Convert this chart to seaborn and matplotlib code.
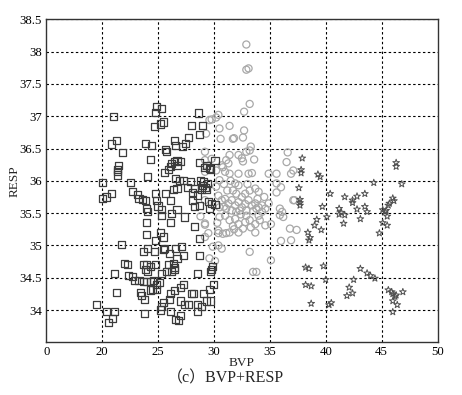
import matplotlib
matplotlib.use("Agg")
import matplotlib.pyplot as plt
import seaborn as sns

# class 1 (squares)
sq_x = [21.0, 24.9, 25.3, 24.8, 25.5, 25.2, 24.7, 20.8, 21.3, 21.8, 21.5, 21.4, 21.4, 21.4, 20.0,
        28.6, 28.0, 29.0, 28.7, 27.7, 26.5, 26.6, 27.2, 27.5, 23.9, 24.4, 25.7, 25.8, 24.3,
        28.7, 29.3, 29.6, 29.7, 30.1, 29.2, 26.2, 26.5, 26.7, 27.0, 26.1, 25.9, 25.6, 26.7, 24.1, 22.5,
        26.6, 27.3, 27.9, 26.9, 28.8, 29.1, 29.4, 29.0, 29.2, 28.9, 29.3, 28.3, 27.6, 28.1, 28.5,
        20.0, 20.4, 20.8, 22.7, 23.2, 23.3, 23.6, 23.9, 24.8, 24.9, 25.0, 25.3, 25.7, 26.1, 26.4, 26.7, 26.7,
        24.0, 24.1, 25.3, 26.2, 27.4, 28.1, 28.7, 28.3, 29.5, 29.8, 30.1, 24.0, 26.1,
        24.0, 25.2, 25.5, 24.8, 28.7, 21.7, 23.7, 24.1, 24.7, 25.5, 25.6, 26.0, 26.6, 27.1, 27.3, 26.7,
        28.7, 22.0, 22.3, 23.7, 24.0, 24.3, 24.8, 23.9, 24.1, 25.9, 26.4, 26.5, 26.5, 26.2, 25.8, 25.3,
        28.5, 29.7, 29.8, 29.9, 21.1, 22.4, 22.7, 22.9, 23.3, 23.7, 24.0, 24.3, 24.6, 24.9, 25.1,
        24.3, 24.5, 24.9, 23.4, 23.5, 23.8, 21.3, 27.3, 27.0, 26.5, 26.1, 26.0, 25.5, 25.3, 25.2,
        28.0, 28.2, 29.1, 29.6, 30.0, 27.0, 27.4, 27.7, 28.5, 28.9, 29.3, 29.7, 19.5,
        20.4, 21.1, 20.9, 20.6, 23.8, 26.1, 26.6, 26.8, 27.0, 28.5, 28.3, 29.6]
sq_y = [37.0, 37.15, 37.12, 37.06, 36.91, 36.88, 36.84, 36.57, 36.63, 36.44, 36.24, 36.18, 36.14, 36.09, 35.98,
        37.05, 36.85, 36.85, 36.72, 36.67, 36.62, 36.55, 36.53, 36.58, 36.58, 36.54, 36.49, 36.46, 36.33,
        36.28, 36.24, 36.19, 36.17, 36.31, 36.21, 36.27, 36.3, 36.31, 36.3, 36.22, 36.17, 36.13, 36.23, 36.07, 35.98,
        36.04, 36.0, 35.99, 36.01, 36.01, 35.99, 35.96, 35.93, 35.9, 35.87, 35.86, 35.88, 35.9, 35.82, 35.78,
        35.73, 35.75, 35.8, 35.83, 35.79, 35.73, 35.71, 35.7, 35.8, 35.7, 35.61, 35.55, 35.81, 35.69, 35.86, 35.88, 35.56,
        35.57, 35.52, 35.47, 35.5, 35.44, 35.7, 35.62, 35.6, 35.68, 35.65, 35.64, 35.36, 35.36,
        35.17, 35.2, 35.13, 35.07, 35.1, 35.02, 34.9, 34.95, 34.9, 34.93, 34.95, 34.88, 34.95, 34.98, 34.85, 34.8,
        34.84, 34.72, 34.71, 34.71, 34.7, 34.68, 34.7, 34.62, 34.59, 34.7, 34.72, 34.66, 34.62, 34.59, 34.59, 34.57,
        34.57, 34.59, 34.63, 34.68, 34.56, 34.53, 34.52, 34.46, 34.45, 34.44, 34.44, 34.44, 34.45, 34.4, 34.42,
        34.31, 34.32, 34.32, 34.27, 34.22, 34.16, 34.27, 34.4, 34.35, 34.3, 34.25, 34.16, 34.11, 34.05, 34.0,
        34.26, 34.26, 34.25, 34.32, 34.4, 34.14, 34.08, 34.09, 34.09, 34.05, 34.14, 34.14, 34.08,
        33.97, 33.98, 33.87, 33.8, 33.94, 33.97, 33.85, 33.84, 33.91, 33.97, 35.29, 35.57]

# class 2 (circles)
ci_x = [32.9, 32.9, 33.1, 33.2, 32.7, 30.4, 30.2, 29.8, 29.6, 30.5, 31.4, 29.3, 32.7, 32.6, 30.6, 31.7, 33.3, 31.8,
        29.2, 29.8, 30.2, 30.8, 31.1, 31.4, 30.5, 30.2, 32.2, 32.5, 32.9, 33.2, 33.6, 32.6,
        30.7, 31.3, 31.0, 31.4, 32.2, 33.1, 33.4, 34.9, 35.6, 31.9, 32.2, 31.7, 32.0, 33.2, 33.7, 34.0,
        30.4, 30.7, 31.0, 31.3, 31.6, 31.9, 32.2, 32.5, 32.8, 33.1, 33.4, 33.7, 34.0, 34.3, 34.6, 34.9, 35.9, 36.1,
        30.5, 31.1, 31.6, 32.0, 32.3, 32.9, 33.5, 33.8, 34.3,
        30.5, 31.0, 31.4, 31.9, 32.2, 32.8, 33.2, 33.7, 34.1, 34.6, 35.1, 32.9, 34.0,
        30.4, 30.8, 31.4, 32.2, 32.6, 33.7, 36.0, 30.4, 30.7, 29.2, 29.2, 29.2, 29.2, 29.2,
        36.6, 36.5, 36.9, 37.1, 35.6, 36.0, 35.6, 37.1, 37.2, 35.9, 36.2, 36.8, 37.4, 36.9,
        33.5, 33.8, 33.2, 35.1, 29.6, 30.1, 29.9, 29.5, 29.2, 28.8, 30.4, 31.1,
        31.2, 30.9, 32.5, 33.0, 31.5, 32.8, 30.3, 31.7, 33.3, 30.9, 32.4, 33.9, 31.8, 34.5]
ci_y = [38.11, 37.72, 37.74, 37.19, 37.07, 37.02, 36.98, 36.95, 36.94, 36.81, 36.85, 36.73, 36.78, 36.67, 36.65, 36.65, 36.53, 36.66,
        36.45, 36.34, 36.16, 36.21, 36.32, 36.4, 36.01, 35.91, 36.4, 36.35, 36.45, 36.47, 36.33, 36.3,
        36.24, 36.27, 36.14, 36.11, 36.11, 36.11, 36.12, 36.11, 36.11, 35.96, 35.93, 35.85, 35.8, 35.85, 35.88, 35.83,
        35.77, 35.7, 35.72, 35.65, 35.7, 35.62, 35.67, 35.59, 35.64, 35.7, 35.62, 35.65, 35.59, 35.62, 35.57, 35.65, 35.57, 35.52,
        35.59, 35.57, 35.54, 35.52, 35.54, 35.54, 35.53, 35.57, 35.52,
        35.44, 35.46, 35.39, 35.41, 35.33, 35.36, 35.39, 35.33, 35.39, 35.31, 35.33, 35.46, 35.46,
        35.23, 35.18, 35.2, 35.2, 35.26, 35.2, 35.07, 35.0, 34.95, 36.32, 36.14, 35.7, 35.34, 35.13,
        36.44, 36.29, 36.11, 36.16, 35.96, 35.9, 35.82, 35.7, 35.7, 35.47, 35.44, 35.26, 35.24, 35.08,
        34.59, 34.59, 34.9, 34.77, 34.8, 34.76, 34.98, 35.19, 35.32, 35.45, 35.19, 35.19,
        35.85, 35.95, 35.75, 35.95, 36.0, 35.8, 35.35, 35.3, 35.28, 35.6, 35.48, 35.72, 35.25, 35.75]

# class 3 (stars)
st_x = [37.9, 37.8, 37.8, 39.3, 39.5, 37.6, 37.7, 37.7, 37.7, 40.4, 39.7, 40.1, 39.2, 39.0, 39.6, 38.4, 38.6, 38.5,
        41.7, 42.4, 42.4, 42.8, 43.5, 41.2, 41.4, 41.7, 41.2, 41.6, 42.8, 43.1, 43.5, 43.7, 44.3,
        45.1, 45.3, 45.4, 45.6, 45.7, 45.5, 45.1, 45.5, 44.8, 46.0, 46.1, 46.3, 46.3, 46.8,
        38.2, 38.5, 39.8, 40.0, 38.2, 38.7, 38.7, 40.3, 40.5, 43.1, 43.7, 44.0, 44.4, 42.5, 42.1, 42.4, 41.9,
        45.6, 45.9, 46.0, 46.3, 46.9, 46.4, 46.0, 46.0, 46.2]
st_y = [36.35, 36.17, 36.12, 36.1, 36.06, 35.89, 35.71, 35.66, 35.62, 35.8, 35.6, 35.44, 35.4, 35.31, 35.24, 35.2, 35.12, 35.08,
        35.75, 35.7, 35.66, 35.76, 35.8, 35.57, 35.51, 35.47, 35.48, 35.34, 35.56, 35.41, 35.6, 35.52, 35.97,
        35.55, 35.52, 35.54, 35.62, 35.65, 35.45, 35.35, 35.31, 35.19, 35.73, 35.69, 36.28, 36.22, 35.95,
        34.66, 34.64, 34.68, 34.47, 34.39, 34.37, 34.1, 34.08, 34.11, 34.64, 34.57, 34.53, 34.49, 34.47, 34.35, 34.26, 34.22,
        34.31, 34.28, 34.25, 34.23, 34.28, 34.08, 34.14, 33.97, 34.21]

# the x axis of the original starts at 15 but its first tick reads "0"
x_ticks = [15, 20, 25, 30, 35, 40, 45, 50]
x_ticklabels = ["0", "20", "25", "30", "35", "40", "45", "50"]
y_ticks = [34, 34.5, 35, 35.5, 36, 36.5, 37, 37.5, 38, 38.5]
y_ticklabels = ["34", "34.5", "35", "35.5", "36", "36.5", "37", "37.5", "38", "38.5"]

sns.set_style("white")
plt.rcParams["font.family"] = ["Liberation Serif", "DejaVu Serif"]

fig = plt.figure(figsize=(4.62, 3.95), dpi=100)
ax = fig.add_axes([0.100, 0.1334, 0.847, 0.8177])

sns.scatterplot(x=ci_x, y=ci_y, marker="o", s=26, facecolor="none",
                edgecolor="#a8a8a8", linewidth=0.9, ax=ax, zorder=3)
sns.scatterplot(x=sq_x, y=sq_y, marker="s", s=26, facecolor="none",
                edgecolor="#3c3c3c", linewidth=0.9, ax=ax, zorder=4)
sns.scatterplot(x=st_x, y=st_y, marker="*", s=26, facecolor="none",
                edgecolor="#505050", linewidth=0.7, ax=ax, zorder=4)

ax.set_xlim(15, 50)
ax.set_ylim(33.5, 38.5)
ax.set_xticks(x_ticks)
ax.set_xticklabels(x_ticklabels)
ax.set_yticks(y_ticks)
ax.set_yticklabels(y_ticklabels)
ax.tick_params(direction="in", length=3, labelsize=9.2, pad=3, colors="black")

# dotted grid drawn as plain lines so it always shows
for xv in x_ticks[1:-1]:
    ax.axvline(xv, color="black", linewidth=0.8, linestyle=(0, (2.2, 2.2)), zorder=1)
for yv in y_ticks:
    ax.axhline(yv, color="black", linewidth=0.8, linestyle=(0, (2.2, 2.2)), zorder=1)

for sp in ax.spines.values():
    sp.set_color("#333333")
    sp.set_linewidth(1.0)

ax.set_xlabel("BVP", fontsize=9.5)
ax.set_ylabel("RESP", fontsize=9.5)
ax.xaxis.set_label_coords(0.5, -0.044)
ax.yaxis.set_label_coords(-0.066, 0.5)

fig.text(0.489, 0.041, "（c）BVP+RESP", fontsize=11.5, ha="center", va="center",
         family=["Liberation Serif", "Noto Sans CJK SC"])

fig.savefig("out.png", dpi=100)
